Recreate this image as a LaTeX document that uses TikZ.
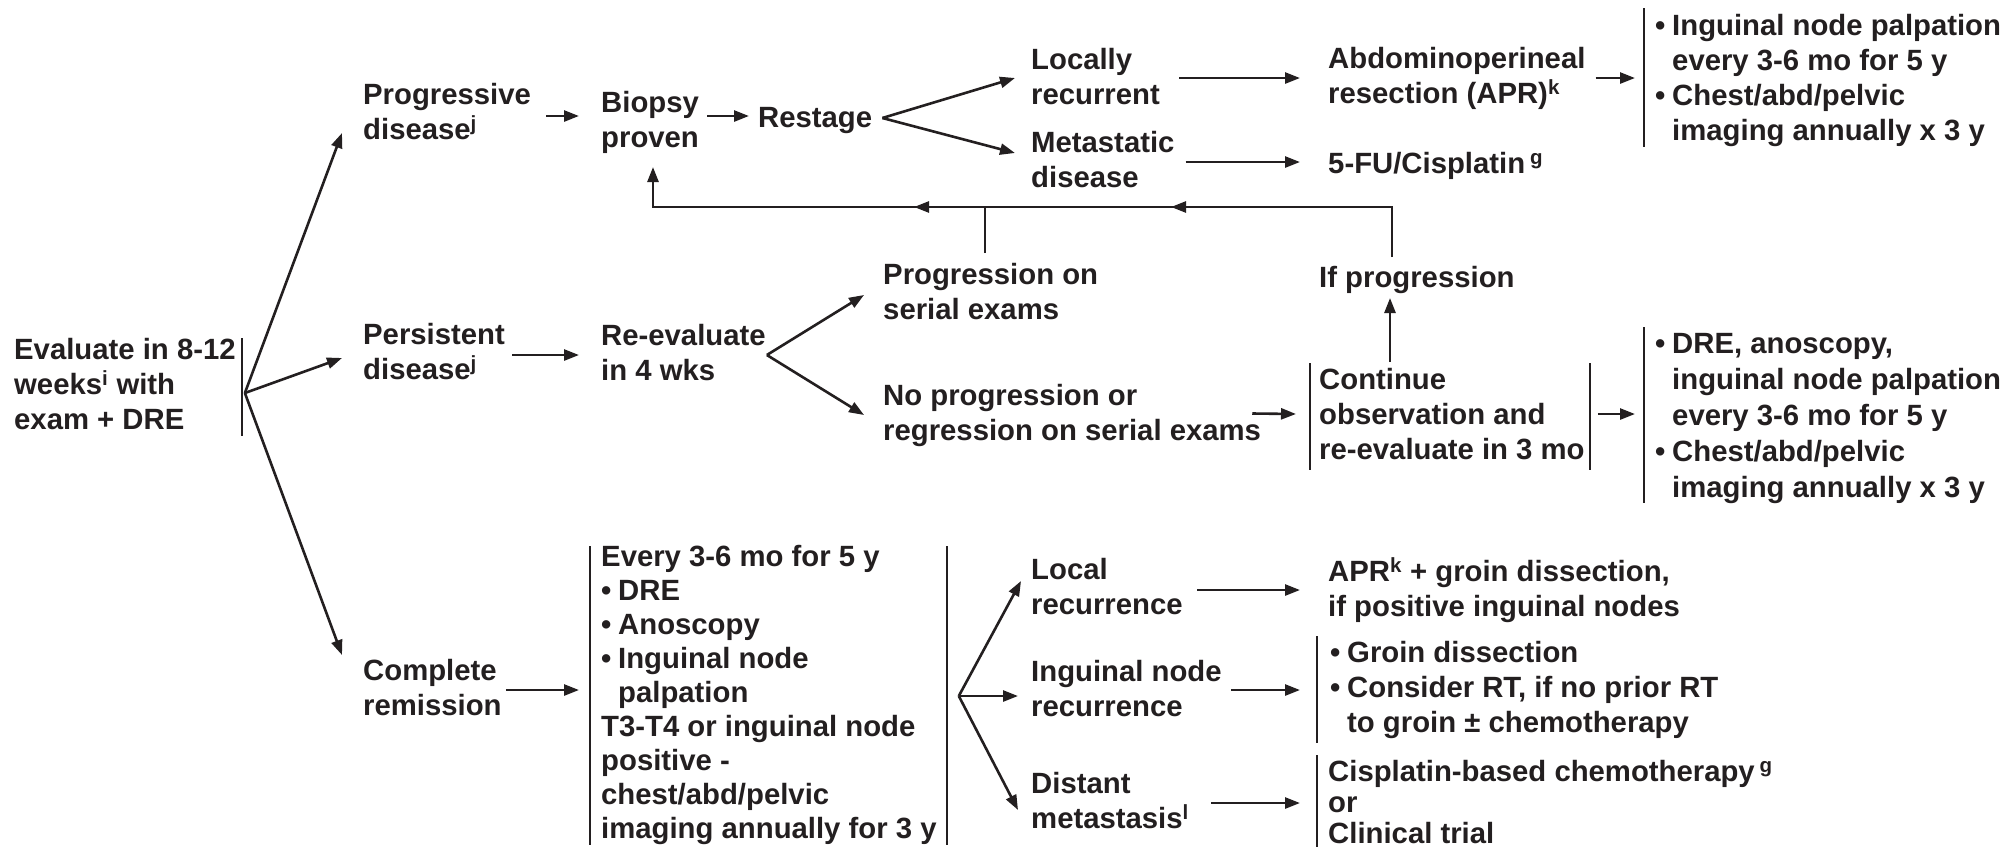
\documentclass[tikz,border=0pt]{standalone}
\usepackage{fontspec}
\setmainfont{Liberation Sans}
\usetikzlibrary{arrows.meta,calc}
\definecolor{ink}{RGB}{35,31,32}
\newcommand\sT{\rule{0pt}{28pt}}
\newcommand\sB{\rule[-7pt]{0pt}{7pt}}
\newcommand\bul{\makebox[17pt][l]{•}}
\newcommand\ind{\hspace*{17pt}}
\begin{document}
\begin{tikzpicture}[x=1pt,y=-1pt,
  txt/.style={anchor=west,inner sep=0pt,align=left,text=ink,
    font=\fontsize{29.3}{35}\selectfont\bfseries,
    execute at begin node=\sT, execute at end node=\sB},
  arr/.style={draw=ink,line width=2.6pt,-{Triangle[length=15pt,width=11pt]}},
  ln/.style={draw=ink,line width=2.6pt},
  bar/.style={draw=ink,line width=2.2pt}]
\useasboundingbox (0,0) rectangle (2005,847);

% ---------- nodes ----------
\node[txt] (eval) at (14,387) {Evaluate in 8-12\\weeks\textsuperscript{i} with\\exam + DRE};
\node[txt] (prog) at (363,115) {Progressive\\disease\textsuperscript{j}};
\node[txt] (biopsy) at (601,122.5) {Biopsy\\proven};
\node[txt] (restage) at (758,117) {Restage};
\node[txt] (locally) at (1031,79.5) {Locally\\recurrent};
\node[txt] (metast) at (1031,162.5) {Metastatic\\disease};
\node[txt] (apr) at (1328,79) {Abdominoperineal\\resection (APR)\textsuperscript{k}};
\node[txt] (fu) at (1328,163) {5-FU/Cisplatin\,\textsuperscript{g}};
\node[txt] (bul1) at (1655,80.5) {\bul Inguinal node palpation\\\ind every 3-6 mo for 5 y\\\bul Chest/abd/pelvic\\\ind imaging annually x 3 y};
\node[txt] (progon) at (883,294.5) {Progression on\\serial exams};
\node[txt] (ifprog) at (1319,277) {If progression};
\node[txt] (persist) at (363,354.5) {Persistent\\disease\textsuperscript{j}};
\node[txt] (reeval) at (601,355.5) {Re-evaluate\\in 4 wks};
\node[txt] (noprog) at (883,415.5) {No progression or\\regression on serial exams};
\node[txt] (cont) at (1319,417) {Continue\\observation and\\re-evaluate in 3 mo};
\node[txt,font=\fontsize{29.3}{36}\selectfont\bfseries] (bul2) at (1655,419) {\bul DRE, anoscopy,\\\ind inguinal node palpation\\\ind every 3-6 mo for 5 y\\\bul Chest/abd/pelvic\\\ind imaging annually x 3 y};
\node[txt] (compl) at (363,690.5) {Complete\\remission};
\node[txt,font=\fontsize{29.3}{34}\selectfont\bfseries] (every) at (601,695.5) {Every 3-6 mo for 5 y\\\bul DRE\\\bul Anoscopy\\\bul Inguinal node\\\ind palpation\\T3-T4 or inguinal node\\positive -\\chest/abd/pelvic\\imaging annually for 3 y};
\node[txt] (local) at (1031,589.5) {Local\\recurrence};
\node[txt] (aprk) at (1328,590.5) {APR\textsuperscript{k} + groin dissection,\\if positive inguinal nodes};
\node[txt] (ingnode) at (1031,691.5) {Inguinal node\\recurrence};
\node[txt] (groin) at (1330,690.5) {\bul Groin dissection\\\bul Consider RT, if no prior RT\\\ind to groin ± chemotherapy};
\node[txt] (distant) at (1031,803.5) {Distant\\metastasis\textsuperscript{l}};
\node[txt,font=\fontsize{29.3}{31}\selectfont\bfseries] (cispl) at (1328,805) {Cisplatin-based chemotherapy\,\textsuperscript{g}\\or\\Clinical trial};

% ---------- brackets ----------
\draw[bar] ([shift={(6,-49)}]eval.east) -- ([shift={(6,49)}]eval.east);
\draw[bar] ([shift={(-11,-72.5)}]bul1.west) -- ([shift={(-11,66.5)}]bul1.west);
\draw[bar] ([shift={(-9,-54)}]cont.west) -- ([shift={(-9,53)}]cont.west);
\draw[bar] ([shift={(5,-54)}]cont.east) -- ([shift={(5,53)}]cont.east);
\draw[bar] ([shift={(-11,-92)}]bul2.west) -- ([shift={(-11,84)}]bul2.west);
\draw[bar] ([shift={(-11,-149.5)}]every.west) -- ([shift={(-11,149.5)}]every.west);
\draw[bar] ([shift={(10,-149.5)}]every.east) -- ([shift={(10,149.5)}]every.east);
\draw[bar] ([shift={(-13,-54.5)}]groin.west) -- ([shift={(-13,52.5)}]groin.west);
\draw[bar] ([shift={(-11,-50)}]cispl.west) -- ([shift={(-11,42)}]cispl.west);

% ---------- fork points ----------
\coordinate (b0) at ([shift={(9,6)}]eval.east);
\coordinate (f1) at ([shift={(10,1)}]restage.east);
\coordinate (f2) at ([shift={(1,-0.5)}]reeval.east);
\coordinate (f3) at ([shift={(22,0.5)}]every.east);

% ---------- connectors ----------
\draw[arr] (b0) -- ([shift={(-21,18)}]prog.west);
\draw[arr] (b0) -- ([shift={(-21,3.5)}]persist.west);
\draw[arr] (b0) -- ([shift={(-21,-35.5)}]compl.west);

\draw[arr] ([shift={(15,1)}]prog.east) -- ([shift={(-22,-6.5)}]biopsy.west);
\draw[arr] ([shift={(8,-6.5)}]biopsy.east) -- ([shift={(-9,-1)}]restage.west);
\draw[arr] (f1) -- ([shift={(-16,-1.5)}]locally.west);
\draw[arr] (f1) -- ([shift={(-16,-9.5)}]metast.west);
\draw[arr] ([shift={(19,-1.5)}]locally.east) -- ([shift={(-28,-1)}]apr.west);
\draw[arr] ([shift={(11,-0.5)}]metast.east) -- ([shift={(-28,-1)}]fu.west);
\draw[arr] ([shift={(10,-1)}]apr.east) -- ([shift={(-20,-2.5)}]bul1.west);

% feedback loop
\coordinate (fbR) at ([shift={(73,-70)}]ifprog.west);
\coordinate (fbL) at ([shift={(52,84.5)}]biopsy.west);
\draw[arr] ([shift={(73,-20)}]ifprog.west) -- (fbR) -- (fbL) -- ([shift={(52,44.5)}]biopsy.west);
\coordinate (pv) at ([shift={(102,-41.5)}]progon.west);
\draw[ln] (pv) -- (pv |- fbL);
\draw[arr] ($(fbR)+(-190,0)$) -- ($(fbR)+(-221,0)$);
\draw[arr] ($(pv |- fbL)+(-40,0)$) -- ($(pv |- fbL)+(-71,0)$);
\draw[arr] ([shift={(71,-55)}]cont.west) -- ([shift={(71,21)}]ifprog.west);

\draw[arr] ([shift={(7,0.5)}]persist.east) -- ([shift={(-22,-0.5)}]reeval.west);
\draw[arr] (f2) -- ([shift={(-19,0.5)}]progon.west);
\draw[arr] (f2) -- ([shift={(-19,-0.5)}]noprog.west);
\draw[arr] ([shift={(-9,-2)}]noprog.east) -- ([shift={(-23,-3)}]cont.west);
\draw[arr] ([shift={(13,-3)}]cont.east) -- ([shift={(-20,-5)}]bul2.west);

\draw[arr] ([shift={(4,-0.5)}]compl.east) -- ([shift={(-22,-5.5)}]every.west);
\draw[arr] (f3) -- ([shift={(-10,-8.5)}]local.west);
\draw[arr] (f3) -- ([shift={(-13,4.5)}]ingnode.west);
\draw[arr] (f3) -- ([shift={(-13,6.5)}]distant.west);
\draw[arr] ([shift={(14.5,0.5)}]local.east) -- ([shift={(-28,-0.5)}]aprk.west);
\draw[arr] ([shift={(9.5,-1.5)}]ingnode.east) -- ([shift={(-30,-0.5)}]groin.west);
\draw[arr] ([shift={(22,-0.5)}]distant.east) -- ([shift={(-28,-2)}]cispl.west);
\end{tikzpicture}
\end{document}
